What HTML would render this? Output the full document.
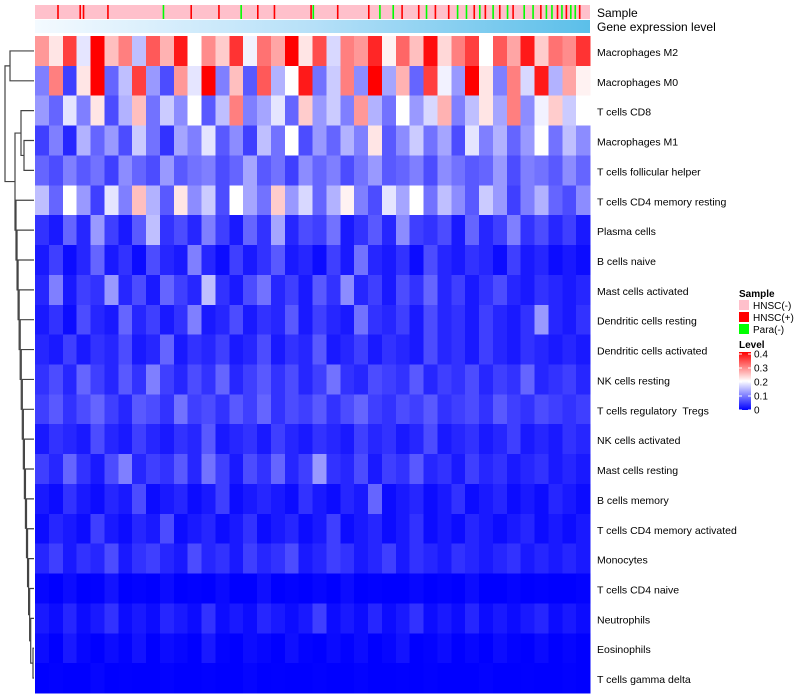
<!DOCTYPE html>
<html><head><meta charset="utf-8"><style>
html,body{margin:0;padding:0;background:#fff;}
svg{display:block;font-family:"Liberation Sans",sans-serif;}
text{white-space:pre;}
</style></head><body>
<svg id="chart" width="800" height="700"></svg>
<script>
const rowNames=["Macrophages M2","Macrophages M0","T cells CD8","Macrophages M1","T cells follicular helper","T cells CD4 memory resting","Plasma cells","B cells naive","Mast cells activated","Dendritic cells resting","Dendritic cells activated","NK cells resting","T cells regulatory\u00a0 Tregs","NK cells activated","Mast cells resting","B cells memory","T cells CD4 memory activated","Monocytes","T cells CD4 naive","Neutrophils","Eosinophils","T cells gamma delta"];
const rowM2=[.28,.22,.35,.18,.4,.25,.3,.15,.33,.26,.38,.2,.29,.24,.36,.19,.31,.27,.4,.22,.34,.17,.3,.28,.37,.21,.32,.25,.39,.23,.3,.35,.2,.33,.27,.38,.24,.31,.29,.36];
const rowM0=[.1,.3,.05,.22,.4,.08,.15,.35,.12,.06,.28,.18,.4,.1,.25,.07,.33,.14,.2,.38,.09,.16,.3,.11,.4,.13,.26,.08,.35,.19,.12,.4,.22,.1,.3,.17,.38,.14,.27,.21];
const rowCD8=[.12,.08,.18,.1,.22,.06,.14,.25,.09,.16,.11,.2,.07,.15,.3,.1,.13,.18,.08,.24,.12,.16,.1,.28,.14,.09,.2,.12,.17,.26,.1,.15,.22,.13,.3,.11,.19,.24,.16,.2];
const rowM1=[.05,.1,.03,.14,.08,.12,.06,.16,.09,.04,.13,.1,.18,.07,.11,.05,.15,.09,.2,.06,.12,.08,.14,.1,.22,.07,.11,.16,.09,.13,.06,.18,.1,.14,.08,.12,.2,.09,.15,.11];
const rowTfh=[.08,.06,.1,.07,.09,.05,.11,.08,.06,.12,.07,.09,.1,.06,.08,.13,.07,.09,.05,.11,.08,.1,.06,.09,.12,.07,.08,.1,.06,.11,.09,.07,.08,.12,.06,.1,.09,.07,.11,.08];
const rowCD4mr=[.15,.08,.2,.12,.05,.18,.1,.25,.14,.07,.22,.11,.16,.06,.2,.13,.09,.24,.12,.17,.08,.14,.21,.1,.06,.18,.13,.2,.09,.15,.11,.07,.16,.12,.05,.1,.14,.08,.06,.11];
const rowPlasma=[.04,.02,.08,.03,.12,.05,.02,.07,.15,.04,.06,.03,.1,.05,.02,.08,.04,.13,.03,.06,.05,.09,.02,.04,.07,.03,.11,.05,.04,.06,.02,.08,.03,.05,.1,.04,.06,.03,.05,.02];
const rowBnaive=[.02,.05,.01,.03,.08,.02,.04,.01,.06,.03,.02,.1,.03,.01,.05,.02,.04,.07,.02,.03,.01,.05,.02,.09,.03,.02,.04,.01,.06,.03,.02,.04,.03,.01,.05,.02,.03,.01,.02,.01];
const rowMastAct=[.03,.1,.02,.05,.04,.12,.03,.06,.02,.08,.05,.03,.15,.04,.02,.06,.09,.03,.05,.02,.07,.04,.11,.03,.05,.02,.06,.04,.08,.03,.05,.02,.04,.06,.03,.02,.04,.03,.02,.03];
const rowDCrest=[.02,.04,.01,.06,.03,.02,.08,.03,.05,.02,.04,.1,.02,.03,.06,.02,.04,.03,.07,.02,.05,.03,.02,.09,.04,.03,.05,.02,.06,.03,.04,.02,.05,.03,.02,.04,.12,.03,.02,.04];
const rowDCact=[.03,.02,.05,.02,.04,.03,.06,.02,.03,.08,.02,.04,.03,.05,.02,.03,.06,.02,.04,.03,.07,.02,.03,.05,.02,.04,.03,.02,.06,.03,.04,.02,.05,.03,.02,.04,.03,.02,.03,.02];
const rowNKrest=[.04,.06,.03,.08,.05,.03,.07,.04,.1,.05,.03,.06,.04,.08,.03,.05,.07,.04,.06,.03,.05,.09,.04,.03,.06,.05,.04,.07,.03,.05,.04,.06,.03,.05,.04,.08,.03,.04,.05,.03];
const rowTregs=[.05,.07,.04,.06,.08,.05,.03,.07,.06,.04,.09,.05,.06,.04,.07,.05,.08,.04,.06,.05,.07,.04,.06,.08,.05,.04,.06,.05,.07,.04,.05,.06,.04,.07,.05,.04,.06,.05,.04,.05];
const rowNKact=[.02,.04,.03,.02,.06,.03,.02,.05,.03,.02,.04,.03,.07,.02,.03,.04,.02,.05,.03,.02,.04,.03,.02,.05,.03,.04,.02,.03,.06,.02,.03,.04,.02,.03,.05,.02,.03,.02,.04,.03];
const rowMastRest=[.05,.03,.08,.04,.02,.06,.1,.03,.05,.04,.07,.03,.09,.05,.02,.06,.04,.08,.03,.05,.12,.04,.03,.06,.02,.05,.04,.07,.03,.04,.02,.05,.03,.04,.02,.03,.04,.02,.03,.02];
const rowBmem=[.02,.01,.04,.02,.01,.03,.02,.06,.01,.02,.03,.01,.02,.05,.01,.02,.03,.02,.01,.04,.02,.01,.03,.02,.08,.01,.02,.03,.01,.02,.04,.01,.02,.03,.01,.02,.01,.03,.02,.01];
const rowCD4act=[.01,.03,.02,.01,.05,.02,.01,.03,.02,.06,.01,.02,.03,.01,.02,.04,.01,.02,.03,.01,.02,.05,.01,.02,.03,.01,.02,.04,.01,.02,.01,.03,.02,.01,.02,.03,.01,.02,.01,.02];
const rowMono=[.03,.05,.02,.04,.03,.06,.02,.04,.05,.03,.02,.06,.03,.04,.02,.05,.03,.04,.06,.02,.03,.05,.04,.02,.03,.05,.02,.04,.03,.02,.04,.03,.02,.03,.04,.02,.03,.02,.03,.02];
const rowCD4naive=[.005,0,.01,0,.002,.015,0,.003,0,.01,0,.002,0,.008,0,0,.012,0,.003,0,.005,0,.01,0,.002,0,0,.006,0,.003,0,.01,0,0,.004,0,.002,0,0,.003];
const rowNeutro=[.02,.01,.03,.01,.02,.04,.01,.02,.01,.03,.02,.01,.04,.01,.02,.01,.03,.02,.01,.02,.05,.01,.02,.01,.03,.01,.02,.04,.01,.02,.01,.03,.01,.02,.01,.02,.03,.01,.02,.01];
const rowEos=[.01,0,.02,.005,0,.01,.003,.015,0,.01,.005,0,.02,.003,0,.01,.005,0,.012,.003,0,.008,.002,.01,0,.005,.015,0,.003,.01,0,.006,0,.01,.003,0,.008,0,.004,0];
const rowGD=[0,.002,0,0,.005,0,.001,0,0,.003,0,0,.002,0,0,.004,0,.001,0,0,.002,0,0,.003,0,0,.001,0,.002,0,0,0,.003,0,0,.001,0,0,.002,0];
const matrix=[rowM2,rowM0,rowCD8,rowM1,rowTfh,rowCD4mr,rowPlasma,rowBnaive,rowMastAct,rowDCrest,rowDCact,rowNKrest,rowTregs,rowNKact,rowMastRest,rowBmem,rowCD4act,rowMono,rowCD4naive,rowNeutro,rowEos,rowGD];
const sampleRed=[20,40,43,65,140,165,200,215,248,272,300,330,345,360,372,395,405,418,430,455,470,478,490];
const sampleGreen=[115,185,250,310,322,352,380,388,400,412,425,440,448,460,465,474,482,486];
const levelTicks=[0,0.1,0.2,0.3,0.4];

const NS="http://www.w3.org/2000/svg";
const svg=document.getElementById('chart');
function mk(tag,attrs,parent){const e=document.createElementNS(NS,tag);for(const k in attrs)e.setAttribute(k,attrs[k]);(parent||svg).appendChild(e);return e;}
const X0=35,X1=590,Y0=36,Y1=693,NSAMP=500;
const nCols=matrix[0].length;
const cw=(X1-X0)/nCols, rh=(Y1-Y0)/matrix.length;
const xCol=i=>X0+i*cw, yRow=r=>Y0+r*rh, xSamp=s=>X0+s*(X1-X0)/NSAMP;
function color(v){v=Math.max(0,Math.min(0.4,v));let r,g,b;
 if(v<0.2){const t=v/0.2;r=255*t;g=255*t;b=255;}else{const t=(v-0.2)/0.2;r=255;g=255*(1-t);b=255*(1-t);}
 return `rgb(${r|0},${g|0},${b|0})`;}
const defs=mk('defs',{});
const gr=mk('linearGradient',{id:'geneGrad',x1:0,x2:1,y1:0,y2:0},defs);
mk('stop',{offset:'0','stop-color':'#f4faff'},gr);mk('stop',{offset:'0.5','stop-color':'#b6e0f8'},gr);mk('stop',{offset:'1','stop-color':'#5bbfe9'},gr);
const lg=mk('linearGradient',{id:'levelGrad',x1:0,x2:0,y1:1,y2:0},defs);
mk('stop',{offset:'0','stop-color':'#0000ff'},lg);mk('stop',{offset:'0.5','stop-color':'#ffffff'},lg);mk('stop',{offset:'1','stop-color':'#ff0000'},lg);
const sb=mk('g',{});

mk('rect',{x:X0,y:5,width:X1-X0,height:14,fill:'#ffc0cb'},sb);
sampleRed.forEach(s=>{const r=mk('rect',{x:xSamp(s),y:5,width:1.6,height:14,fill:'#ff0000'},sb);
 });
sampleGreen.forEach(s=>{const r=mk('rect',{x:xSamp(s),y:5,width:1.6,height:14,fill:'#00ff00'},sb);
 });
const gb=mk('rect',{x:X0,y:20,width:X1-X0,height:13,fill:'url(#geneGrad)'});

let t=mk('text',{x:597,y:17,'font-size':12,fill:'#000'});t.textContent='Sample';

t=mk('text',{x:597,y:31,'font-size':12,fill:'#000'});t.textContent='Gene expression level';

const hm=mk('g',{'shape-rendering':'crispEdges'});

matrix.forEach((row,r)=>{row.forEach((v,i)=>{
 const c=mk('rect',{x:xCol(i),y:yRow(r),width:cw+0.6,height:rh+0.6,fill:color(v)},hm);
 });
 const l=mk('text',{x:597,y:yRow(r)+rh/2+5,'font-size':10.5,fill:'#000'});l.textContent=rowNames[r];
 
});
const dg=mk('g',{stroke:'#444','stroke-width':1.2,fill:'none'});

const yc=r=>yRow(r)+rh/2;
function merge(a,b,x){mk('path',{d:`M${a.x},${a.y}H${x}V${b.y}H${b.x}`},dg);return {x:x,y:(a.y+b.y)/2};}
const leaf=r=>({x:34,y:yc(r)});
const c01=merge(leaf(0),leaf(1),10);
const c34=merge(leaf(3),leaf(4),24);
const c234=merge(leaf(2),c34,21);
let chain=merge(leaf(20),leaf(21),33);
for(let k=19;k>=5;k--){chain=merge(leaf(k),chain,16+(k-5)*1.05);}
const cmid=merge(c234,chain,15);
merge(c01,cmid,5);
const lgG=mk('g',{});

t=mk('text',{x:739,y:297,'font-size':10,'font-weight':'bold'},lgG);t.textContent='Sample';
[['HNSC(-)','#ffc0cb'],['HNSC(+)','#ff0000'],['Para(-)','#00ff00']].forEach((e,i)=>{
 const g=mk('g',{},lgG);
 mk('rect',{x:739,y:300+i*12,width:10,height:10,fill:e[1]},g);
 const tt=mk('text',{x:753,y:309+i*12,'font-size':10},g);tt.textContent=e[0];});
t=mk('text',{x:739,y:348,'font-size':10,'font-weight':'bold'},lgG);t.textContent='Level';
const cb=mk('rect',{x:739,y:352,width:12,height:58,fill:'url(#levelGrad)'},lgG);

const yL=v=>410-(v/0.4)*56;
levelTicks.forEach(v=>{mk('line',{x1:739,x2:742,y1:yL(v),y2:yL(v),stroke:'#fff'},lgG);mk('line',{x1:748,x2:751,y1:yL(v),y2:yL(v),stroke:'#fff'},lgG);
 const tt=mk('text',{x:754,y:yL(v)+3.5,'font-size':10},lgG);tt.textContent=String(v);
 });
</script>
</body></html>
